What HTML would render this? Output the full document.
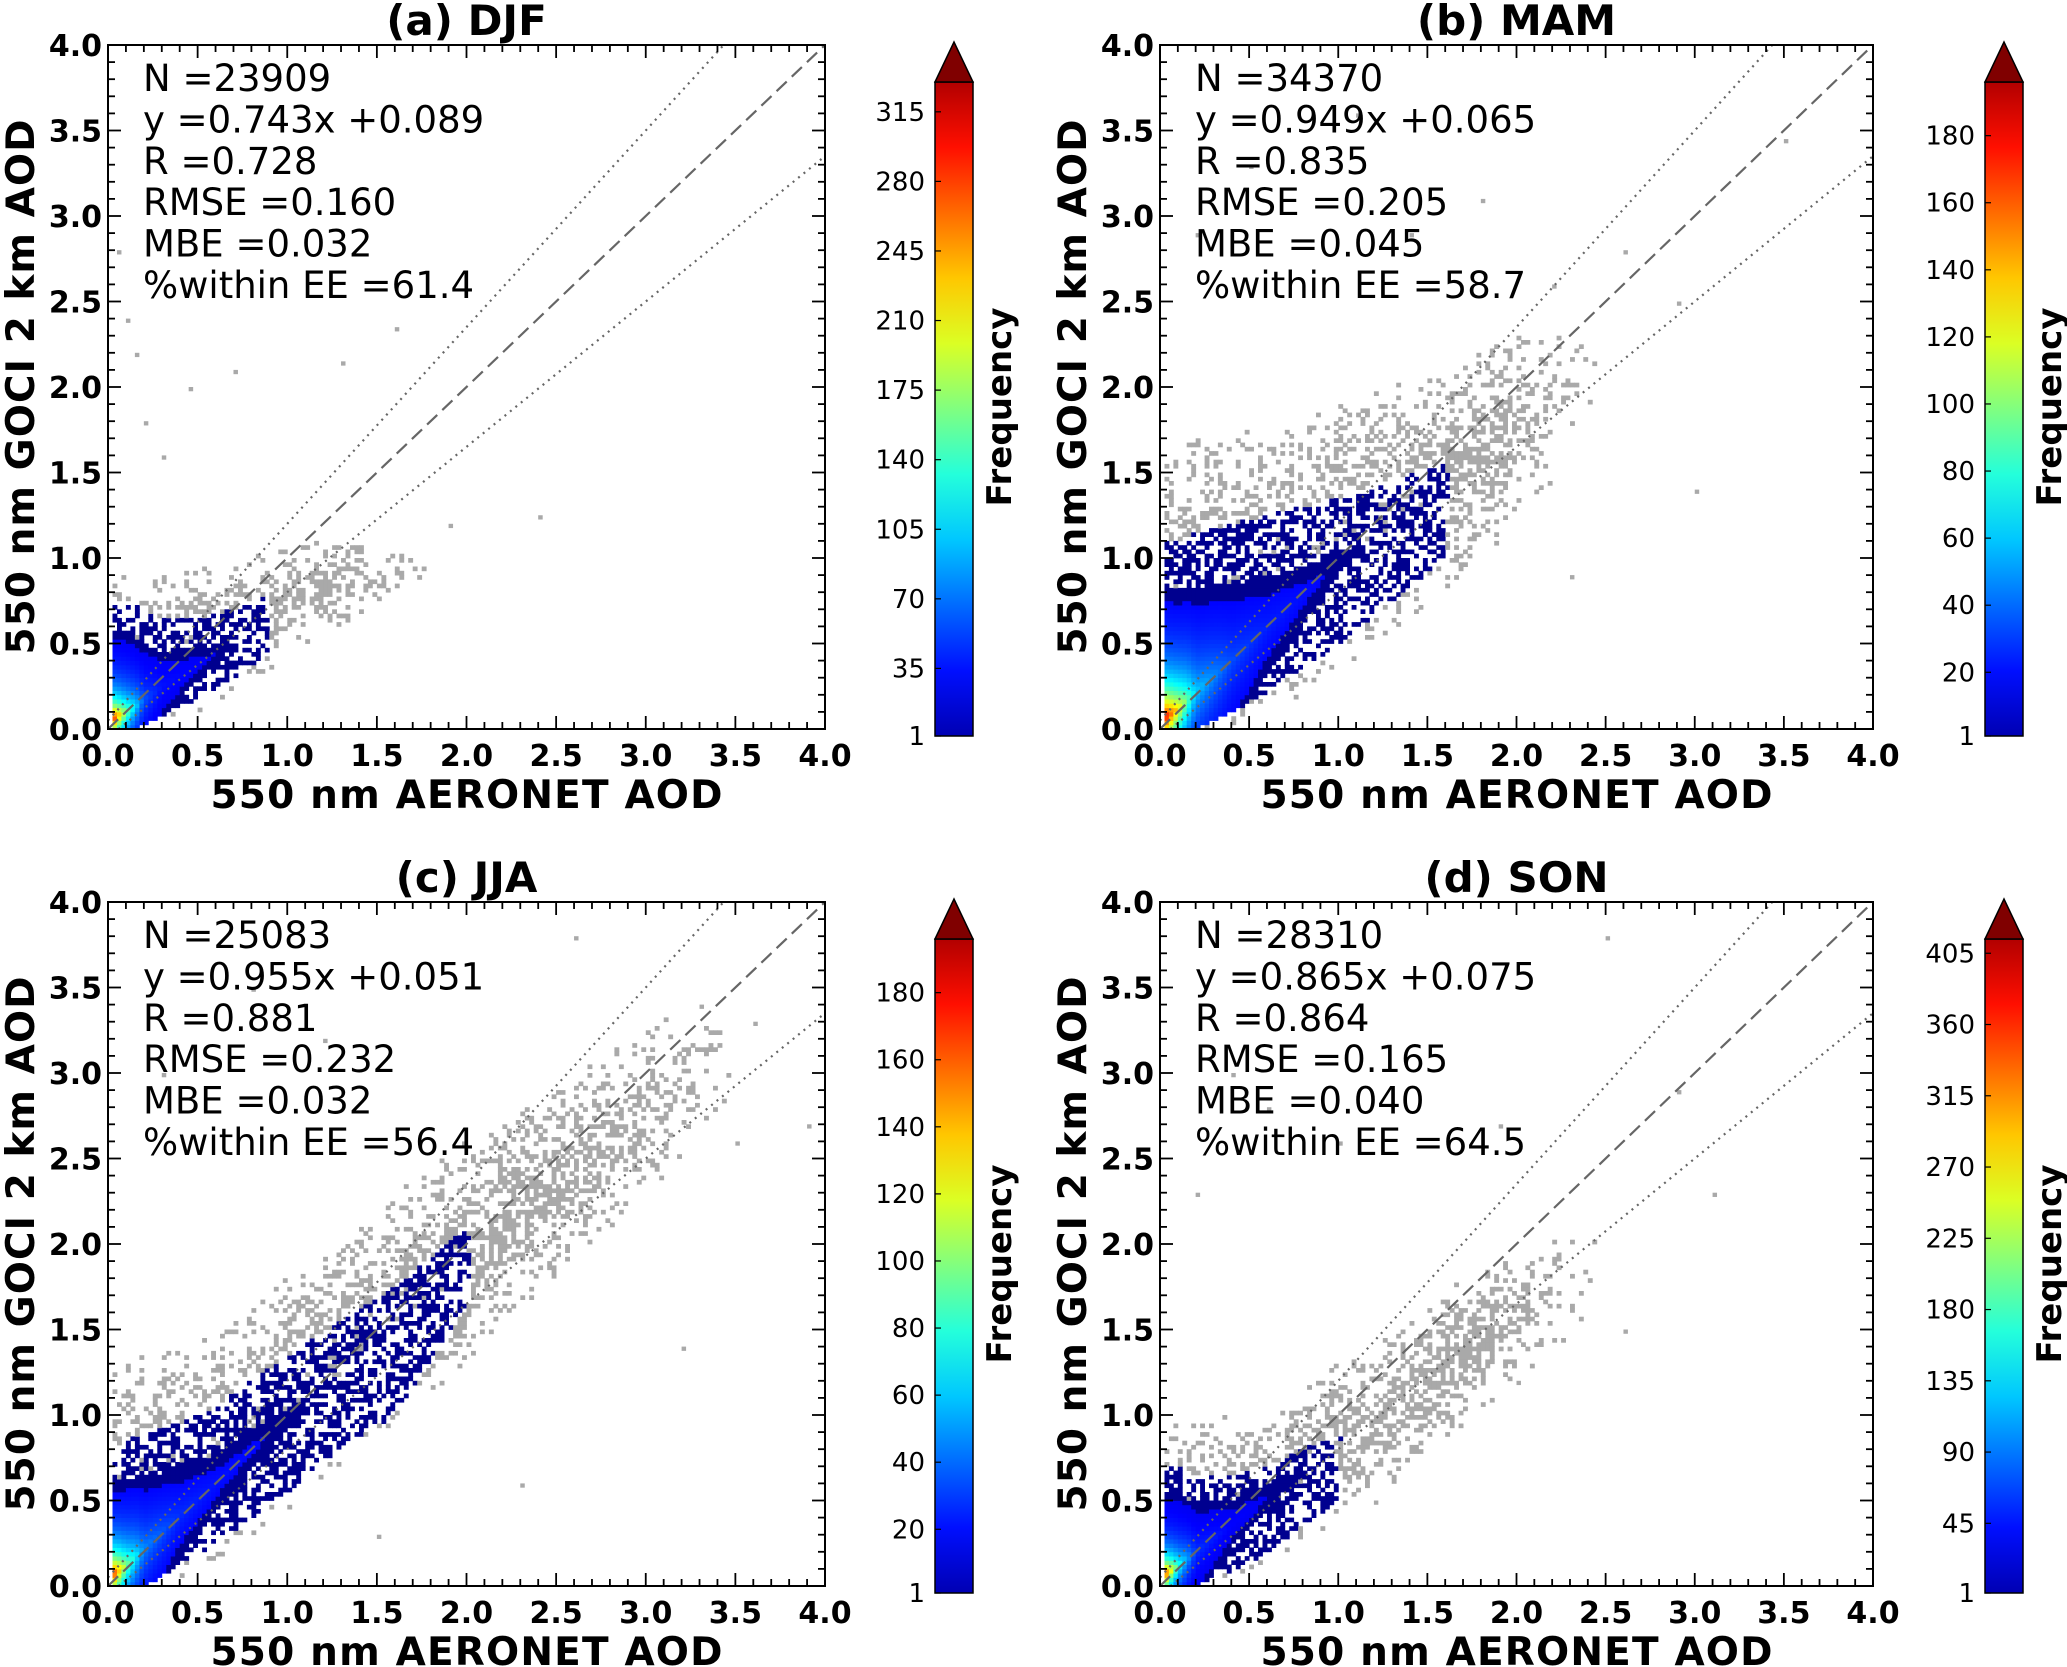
<!DOCTYPE html>
<html><head><meta charset="utf-8">
<style>
html,body{margin:0;padding:0;background:#fff;}
svg{display:block;font-family:"DejaVu Sans","Liberation Sans",sans-serif;}
</style></head>
<body>
<svg id="fig" xmlns="http://www.w3.org/2000/svg" width="2067" height="1667" viewBox="0 0 2067 1667"></svg>
<script>
// ---- Panel data (AOD units) ----
const panelTitles = ["(a) DJF", "(b) MAM", "(c) JJA", "(d) SON"];
const statsA = ["N =23909", "y =0.743x +0.089", "R =0.728", "RMSE =0.160", "MBE =0.032", "%within EE =61.4"];
const statsB = ["N =34370", "y =0.949x +0.065", "R =0.835", "RMSE =0.205", "MBE =0.045", "%within EE =58.7"];
const statsC = ["N =25083", "y =0.955x +0.051", "R =0.881", "RMSE =0.232", "MBE =0.032", "%within EE =56.4"];
const statsD = ["N =28310", "y =0.865x +0.075", "R =0.864", "RMSE =0.165", "MBE =0.040", "%within EE =64.5"];
const axisTicks = [0, 0.5, 1.0, 1.5, 2.0, 2.5, 3.0, 3.5, 4.0];
const cbTicksA = [1, 35, 70, 105, 140, 175, 210, 245, 280, 315];
const cbTicksB = [1, 20, 40, 60, 80, 100, 120, 140, 160, 180];
const cbTicksC = [1, 20, 40, 60, 80, 100, 120, 140, 160, 180];
const cbTicksD = [1, 45, 90, 135, 180, 225, 270, 315, 360, 405];
const cbMax = [330, 196, 196, 414];

// density band knots per panel
const knotsA = [0, 0.1, 0.2, 0.3, 0.5, 0.7, 0.9, 1.1, 1.4, 1.8];
const centerA = [0.05, 0.1, 0.17, 0.25, 0.38, 0.5, 0.65, 0.8, 0.95, 1.1];
const blueLoA = [0, 0, 0.02, 0.08, 0.18, 0.3, 0.45, 9, 9, 9];
const blueHiA = [0.75, 0.75, 0.7, 0.65, 0.65, 0.7, 0.8, 0, 0, 0];
const grayLoA = [0, 0, 0, 0.03, 0.1, 0.2, 0.35, 0.5, 0.65, 0.9];
const grayHiA = [0.95, 0.9, 0.9, 0.9, 0.95, 1.0, 1.05, 1.1, 1.1, 1.0];
const peakA = [330, 150, 40, 15, 8, 4, 2, 1, 0, 0];

const knotsB = [0, 0.1, 0.2, 0.4, 0.6, 0.8, 1.0, 1.3, 1.6, 2.0, 2.5];
const centerB = [0.05, 0.12, 0.22, 0.4, 0.6, 0.78, 0.97, 1.2, 1.45, 1.8, 2.2];
const blueLoB = [0, 0, 0, 0.1, 0.22, 0.35, 0.5, 0.75, 1.0, 9, 9];
const blueHiB = [1.1, 1.1, 1.15, 1.2, 1.25, 1.3, 1.35, 1.45, 1.55, 0, 0];
const grayLoB = [0, 0, 0, 0.03, 0.1, 0.2, 0.35, 0.55, 0.8, 1.2, 1.8];
const grayHiB = [1.5, 1.6, 1.7, 1.7, 1.8, 1.8, 1.9, 2.0, 2.1, 2.3, 2.4];
const peakB = [195, 120, 50, 22, 12, 8, 5, 3, 2, 1, 0];

const knotsC = [0, 0.1, 0.2, 0.4, 0.6, 0.8, 1.0, 1.3, 1.6, 2.0, 2.5, 3.0, 3.5];
const centerC = [0.05, 0.12, 0.22, 0.42, 0.6, 0.8, 0.98, 1.25, 1.5, 1.9, 2.35, 2.8, 3.2];
const blueLoC = [0, 0, 0, 0.12, 0.25, 0.4, 0.55, 0.8, 1.0, 1.45, 9, 9, 9];
const blueHiC = [0.8, 0.85, 0.9, 0.95, 1.05, 1.2, 1.35, 1.55, 1.75, 2.1, 0, 0, 0];
const grayLoC = [0, 0, 0, 0.05, 0.15, 0.3, 0.45, 0.7, 0.9, 1.3, 1.8, 2.3, 2.8];
const grayHiC = [1.2, 1.3, 1.35, 1.4, 1.5, 1.6, 1.8, 2.0, 2.3, 2.6, 2.9, 3.3, 3.5];
const peakC = [195, 90, 35, 15, 9, 7, 5, 3, 2, 1.5, 0, 0, 0];

const knotsD = [0, 0.1, 0.2, 0.4, 0.6, 0.8, 1.0, 1.3, 1.6, 2.0, 2.5];
const centerD = [0.05, 0.12, 0.2, 0.36, 0.52, 0.68, 0.85, 1.1, 1.35, 1.7, 2.0];
const blueLoD = [0, 0, 0, 0.08, 0.2, 0.35, 0.5, 9, 9, 9, 9];
const blueHiD = [0.7, 0.7, 0.65, 0.65, 0.7, 0.8, 0.9, 0, 0, 0, 0];
const grayLoD = [0, 0, 0, 0.04, 0.12, 0.25, 0.4, 0.6, 0.85, 1.2, 1.6];
const grayHiD = [0.95, 0.95, 0.95, 1.0, 1.05, 1.15, 1.3, 1.5, 1.75, 1.95, 2.1];
const peakD = [414, 150, 35, 12, 6, 4, 2, 1, 0, 0, 0];

// isolated outlier points [x,y]
const outX_A = [0.1, 0.15, 0.3, 0.45, 0.7, 1.3, 1.6, 1.9, 2.4, 0.2, 0.05];
const outY_A = [2.4, 2.2, 1.6, 2.0, 2.1, 2.15, 2.35, 1.2, 1.25, 1.8, 2.8];
const outX_B = [0.2, 0.5, 1.1, 1.8, 2.2, 2.6, 2.9, 3.5, 3.0, 2.3, 1.4];
const outY_B = [2.9, 3.3, 3.6, 3.1, 2.6, 2.8, 2.5, 3.45, 1.4, 0.9, 2.9];
const outX_C = [0.3, 0.8, 1.2, 2.6, 3.3, 3.6, 3.9, 3.2, 2.3, 1.5, 3.5];
const outY_C = [3.0, 3.5, 3.2, 3.8, 3.4, 3.3, 2.7, 1.4, 0.6, 0.3, 2.6];
const outX_D = [0.2, 0.6, 1.0, 1.9, 2.5, 2.9, 3.1, 2.6, 2.0, 1.2, 0.4];
const outY_D = [2.3, 2.8, 2.6, 2.7, 3.8, 2.9, 2.3, 1.5, 1.2, 0.5, 3.0];

const panels = [
 {x0:108,x1:825,y0:45,y1:729,cbx:935,stats:statsA,cb:cbTicksA,k:knotsA,c:centerA,bl:blueLoA,bh:blueHiA,gl:grayLoA,gh:grayHiA,p:peakA,ox:outX_A,oy:outY_A,id:'a'},
 {x0:1160,x1:1873,y0:45,y1:729,cbx:1985,stats:statsB,cb:cbTicksB,k:knotsB,c:centerB,bl:blueLoB,bh:blueHiB,gl:grayLoB,gh:grayHiB,p:peakB,ox:outX_B,oy:outY_B,id:'b'},
 {x0:108,x1:825,y0:902,y1:1586,cbx:935,stats:statsC,cb:cbTicksC,k:knotsC,c:centerC,bl:blueLoC,bh:blueHiC,gl:grayLoC,gh:grayHiC,p:peakC,ox:outX_C,oy:outY_C,id:'c'},
 {x0:1160,x1:1873,y0:902,y1:1586,cbx:1985,stats:statsD,cb:cbTicksD,k:knotsD,c:centerD,bl:blueLoD,bh:blueHiD,gl:grayLoD,gh:grayHiD,p:peakD,ox:outX_D,oy:outY_D,id:'d'}
];

const NS = "http://www.w3.org/2000/svg";
const svg = document.getElementById('fig');
function mk(tag, attrs, parent){ const e=document.createElementNS(NS,tag); for(const k in attrs) e.setAttribute(k,attrs[k]); (parent||svg).appendChild(e); return e; }
function jet(t){ t=Math.max(0,Math.min(1,t));
  const r=Math.max(0,Math.min(1,1.5-Math.abs(4*t-3))), g=Math.max(0,Math.min(1,1.5-Math.abs(4*t-2))), b=Math.max(0,Math.min(1,1.5-Math.abs(4*t-1)));
  return `rgb(${Math.round(r*255)},${Math.round(g*255)},${Math.round(b*255)})`; }
function interp(ks, vs, x){ if(x>ks[ks.length-1]) return null; for(let i=0;i<ks.length-1;i++){ if(x<=ks[i+1]){ const f=(x-ks[i])/(ks[i+1]-ks[i]); return vs[i]+f*(vs[i+1]-vs[i]); } } return vs[vs.length-1]; }
function hash(i,j){ let h=(i*73856093)^(j*19349663); h=(h^(h>>>13))*1274126177; h=h^(h>>>16); return ((h>>>0)%1000)/1000; }

const defs = mk('defs',{});
const grad = mk('linearGradient',{id:'jetg',x1:0,y1:1,x2:0,y2:0},defs);
for(let i=0;i<=10;i++){ mk('stop',{offset:(i/10),'stop-color':jet(0.05+0.9*i/10)},grad); }

panels.forEach((P,pi)=>{
  const g = mk('g',{});  
  const sx = v => P.x0 + v/4*(P.x1-P.x0);
  const sy = v => P.y1 - v/4*(P.y1-P.y0);
  const cmax = cbMax[pi];
  const xlast = P.k[P.k.length-1];
  const cells = mk('g',{},g);  
  const d=0.025, cw=sx(d)-sx(0), ch=sy(0)-sy(d);
  for(let i=1;i<160;i++){
    const x=(i+0.5)*d;
    const cen=interp(P.k,P.c,x); if(cen===null) continue;
    const bl=interp(P.k,P.bl,x), bh=interp(P.k,P.bh,x), gl=interp(P.k,P.gl,x), gh=interp(P.k,P.gh,x), pk=interp(P.k,P.p,x);
    const half=Math.max(0.05,Math.max(cen-bl,bh-cen));
    const s=half/Math.log(Math.max(pk,2));
    const fade=Math.min(1,(xlast-x)/(0.25*xlast));
    for(let j=0;j<160;j++){
      const y=(j+0.5)*d; if(y<gl||y>gh) continue;
      let fill=null;
      const cnt=pk*Math.exp(-Math.abs(y-cen)/s);
      const h=hash(i+pi*1000,j);
      if(y>=bl && y<=bh && cnt>=1 && (cnt>=4 || h<0.5)) { fill=(cnt<6)?'#00008f':jet(0.1+0.9*cnt/cmax); }
      else { const edge=Math.min(y-gl,gh-y)/Math.max(0.05,(gh-gl)/2); if(h<(0.1+0.5*edge)*fade) fill='#a9a9a9'; }
      if(fill){ const r=mk('rect',{x:sx(i*d).toFixed(1),y:sy((j+1)*d).toFixed(1),width:(cw+0.4).toFixed(1),height:(ch+0.4).toFixed(1),fill:fill},cells);
          }
    }
  }
  P.ox.forEach((ox,k)=>{ const r=mk('rect',{x:sx(ox),y:sy(P.oy[k]),width:cw,height:ch,fill:'#a9a9a9'},cells);
      });
  const ln=mk('line',{x1:sx(0),y1:sy(0),x2:sx(4),y2:sy(4),stroke:'#666','stroke-width':2.2,'stroke-dasharray':'14,7'},g);
   
  const xu=(4-0.05)/1.15;
  const eu=mk('line',{x1:sx(0),y1:sy(0.05),x2:sx(xu),y2:sy(4),stroke:'#666','stroke-width':2.2,'stroke-dasharray':'2,5'},g);
   
  const xl=0.05/0.85;
  const el=mk('line',{x1:sx(xl),y1:sy(0),x2:sx(4),y2:sy(0.85*4-0.05),stroke:'#666','stroke-width':2.2,'stroke-dasharray':'2,5'},g);
   
  const fr=mk('rect',{x:P.x0,y:P.y0,width:P.x1-P.x0,height:P.y1-P.y0,fill:'none',stroke:'#000','stroke-width':2},g);
   
  for(let t=0;t<=40;t++){ const v=t/10, L=(t%5===0)?13:7;
    mk('line',{x1:sx(v),y1:P.y1,x2:sx(v),y2:P.y1-L,stroke:'#000','stroke-width':1.8},g);
    mk('line',{x1:sx(v),y1:P.y0,x2:sx(v),y2:P.y0+L,stroke:'#000','stroke-width':1.8},g);
    mk('line',{x1:P.x0,y1:sy(v),x2:P.x0+L,y2:sy(v),stroke:'#000','stroke-width':1.8},g);
    mk('line',{x1:P.x1,y1:sy(v),x2:P.x1-L,y2:sy(v),stroke:'#000','stroke-width':1.8},g);
  }
  axisTicks.forEach(v=>{
    const tx=mk('text',{x:sx(v),y:P.y1+37,'text-anchor':'middle','font-size':30,'font-weight':'bold'},g); tx.textContent=v.toFixed(1);
     
    const ty=mk('text',{x:P.x0-6,y:sy(v)+11,'text-anchor':'end','font-size':30,'font-weight':'bold'},g); ty.textContent=v.toFixed(1);
     
  });
  const xt=mk('text',{x:(P.x0+P.x1)/2,y:P.y1+79,'text-anchor':'middle','font-size':39,'font-weight':'bold',textLength:512},g); xt.textContent='550 nm AERONET AOD';
   
  const yc=(P.y0+P.y1)/2, yx=P.x0-74;
  const yt=mk('text',{x:yx,y:yc,'text-anchor':'middle','font-size':39,'font-weight':'bold',textLength:535,transform:`rotate(-90 ${yx} ${yc})`},g); yt.textContent='550 nm GOCI 2 km AOD';
   
  const ti=mk('text',{x:(P.x0+P.x1)/2,y:P.y0-10,'text-anchor':'middle','font-size':42,'font-weight':'bold'},g); ti.textContent=panelTitles[pi];
   
  P.stats.forEach((s,k)=>{ const t=mk('text',{x:P.x0+35,y:P.y0+46+k*41.4,'font-size':37},g); t.textContent=s;
      });
  const cbTop=P.y0+37, cbBot=P.y1+7, cbw=38;
  const cbg=mk('g',{},g);  
  mk('rect',{x:P.cbx,y:cbTop,width:cbw,height:cbBot-cbTop,fill:'url(#jetg)',stroke:'#000','stroke-width':1.5},cbg);
  mk('polygon',{points:`${P.cbx},${cbTop} ${P.cbx+cbw/2},${P.y0-3} ${P.cbx+cbw},${cbTop}`,fill:'#800000',stroke:'#000','stroke-width':1.5},cbg);
  const cy=v=>cbBot-(v-1)/(cmax-1)*(cbBot-cbTop);
  P.cb.forEach(v=>{ const t=mk('text',{x:P.cbx-10,y:cy(v)+9,'text-anchor':'end','font-size':26},cbg); t.textContent=String(v);
     
    mk('line',{x1:P.cbx,y1:cy(v),x2:P.cbx+6,y2:cy(v),stroke:'#000','stroke-width':1.2},cbg); });
  const fx=P.cbx+cbw+38, fy=(P.y0+P.y1)/2+20;
  const ft=mk('text',{x:fx,y:fy,'text-anchor':'middle','font-size':34,'font-weight':'bold',transform:`rotate(-90 ${fx} ${fy})`},cbg); ft.textContent='Frequency';
   
});
</script>
</body></html>
